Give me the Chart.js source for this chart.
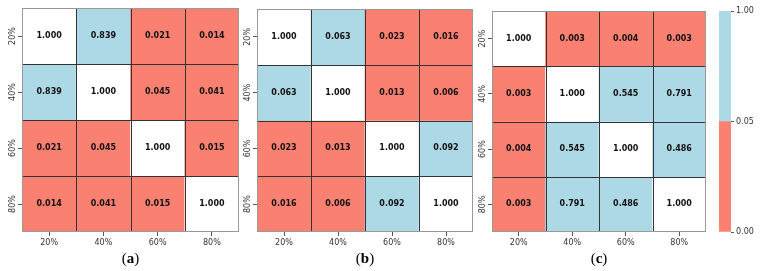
<!DOCTYPE html>
<html>
<head>
<meta charset="utf-8">
<script src="https://cdn.jsdelivr.net/npm/chart.js@4.4.1/dist/chart.umd.min.js"></script>
<style>
  html, body { margin: 0; padding: 0; background: #fff; }
  #wrap { position: relative; width: 760px; height: 271px; overflow: hidden; }
  canvas { position: absolute; top: 0; }
</style>
</head>
<body>
<div id="wrap">
  <canvas id="pa" width="245" height="271" style="left:0px"></canvas>
  <canvas id="pb" width="245" height="271" style="left:235px"></canvas>
  <canvas id="pc" width="242" height="271" style="left:470px"></canvas>
  <canvas id="cb" width="60" height="271" style="left:700px"></canvas>
</div>
<script>
// categories (rows top->bottom, columns left->right)
const levels = ['20%', '40%', '60%', '80%'];

// p-value matrices
const matA = [
  [1.000, 0.839, 0.021, 0.014],
  [0.839, 1.000, 0.045, 0.041],
  [0.021, 0.045, 1.000, 0.015],
  [0.014, 0.041, 0.015, 1.000]
];
const matB = [
  [1.000, 0.063, 0.023, 0.016],
  [0.063, 1.000, 0.013, 0.006],
  [0.023, 0.013, 1.000, 0.092],
  [0.016, 0.006, 0.092, 1.000]
];
const matC = [
  [1.000, 0.003, 0.004, 0.003],
  [0.003, 1.000, 0.545, 0.791],
  [0.004, 0.545, 1.000, 0.486],
  [0.003, 0.791, 0.486, 1.000]
];
const panelNames = ['a', 'b', 'c'];

// colour bar
const cbTicks = ['0.00', '0.05', '1.00'];
const cbColors = ['#FA8072', '#ADD8E6'];
const threshold = 0.05;

const H = 271;
const TXT = '#333';

function cellColor(v, r, c) {
  if (r === c) return '#ffffff';
  return v < threshold ? cbColors[0] : cbColors[1];
}

const cellPlugin = {
  id: 'cells',
  afterDatasetsDraw(chart) {
    const ctx = chart.ctx;
    const ca = chart.chartArea;
    const xs = chart.scales.x, ys = chart.scales.y;
    ctx.save();
    // values in cells
    ctx.font = 'bold 8px "DejaVu Sans"';
    ctx.fillStyle = '#111';
    ctx.textAlign = 'center';
    ctx.textBaseline = 'middle';
    chart.data.datasets.forEach((ds, r) => {
      chart.getDatasetMeta(r).data.forEach((el, c) => {
        ctx.fillText(ds.pv[c].toFixed(3), el.x, (el.y + el.base) / 2);
      });
    });
    // cell dividers
    ctx.strokeStyle = '#333';
    ctx.lineWidth = 1;
    ctx.beginPath();
    for (let i = 1; i < levels.length; i++) {
      const x = Math.round((xs.getPixelForValue(i - 1) + xs.getPixelForValue(i)) / 2) + 0.5;
      ctx.moveTo(x, ca.top); ctx.lineTo(x, ca.bottom);
      const y = Math.round(ys.getPixelForValue(i)) + 0.5;
      ctx.moveTo(ca.left, y); ctx.lineTo(ca.right, y);
    }
    ctx.stroke();
    // frame
    ctx.strokeStyle = '#999';
    ctx.strokeRect(Math.round(ca.left) + 0.5, Math.round(ca.top) + 0.5,
      Math.round(ca.right - ca.left) - 1, Math.round(ca.bottom - ca.top) - 1);
    ctx.restore();
  },
  afterDraw(chart, args, opts) {
    const ctx = chart.ctx;
    const ca = chart.chartArea;
    const cx = (ca.left + ca.right) / 2;
    const y = 259;
    ctx.save();
    ctx.fillStyle = '#000';
    ctx.textBaseline = 'middle';
    ctx.textAlign = 'left';
    const reg = '15px "Liberation Serif"', bold = 'bold 15px "Liberation Serif"';
    ctx.font = reg; const wp = ctx.measureText('(').width, wq = ctx.measureText(')').width;
    ctx.font = bold; const wl = ctx.measureText(opts.label).width;
    let x = cx - (wp + wl + wq) / 2;
    ctx.font = reg; ctx.fillText('(', x, y); x += wp;
    ctx.font = bold; ctx.fillText(opts.label, x, y); x += wl;
    ctx.font = reg; ctx.fillText(')', x, y);
    ctx.restore();
  }
};

function makePanel(id, mat, label, canvasLeft, canvasW, area) {
  const datasets = mat.map((row, r) => ({
    data: row.map(() => 1),
    pv: row,
    backgroundColor: row.map((v, c) => cellColor(v, r, c)),
    borderWidth: 0,
    barPercentage: 1,
    categoryPercentage: 1
  }));
  new Chart(document.getElementById(id), {
    type: 'bar',
    data: { labels: levels, datasets },
    plugins: [cellPlugin],
    options: {
      responsive: false,
      animation: false,
      events: [],
      layout: { padding: { top: area.top, bottom: 0, left: 0, right: canvasLeft + canvasW - area.right } },
      plugins: { legend: { display: false }, tooltip: { enabled: false }, cells: { label } },
      scales: {
        x: {
          stacked: true,
          grid: { drawOnChartArea: false, offset: false, tickLength: 4, color: '#555' },
          border: { display: false },
          ticks: { color: TXT, font: { family: 'DejaVu Sans', size: 8 }, padding: 2, maxRotation: 0 },
          afterFit: s => { s.height = H - area.bottom; }
        },
        y: {
          stacked: true,
          reverse: true,
          min: 0,
          max: levels.length,
          afterBuildTicks: s => { s.ticks = levels.map((_, i) => ({ value: i + 0.5 })); },
          grid: { drawOnChartArea: false, tickLength: 4, color: '#555' },
          border: { display: false },
          ticks: {
            color: TXT, font: { family: 'DejaVu Sans', size: 8 },
            minRotation: 90, maxRotation: 90, crossAlign: 'center', padding: -4,
            callback: (v, i) => levels[i]
          },
          afterFit: s => { s.width = area.left - canvasLeft; }
        }
      }
    }
  });
}

makePanel('pa', matA, panelNames[0], 0, 245, { left: 22, right: 239, top: 8, bottom: 232 });
makePanel('pb', matB, panelNames[1], 235, 245, { left: 257, right: 473, top: 9, bottom: 232 });
makePanel('pc', matC, panelNames[2], 470, 242, { left: 492, right: 706, top: 11, bottom: 232 });

// colour bar: two equal segments, labelled by the boundary values
new Chart(document.getElementById('cb'), {
  type: 'bar',
  data: {
    labels: [''],
    datasets: cbColors.map(col => ({
      data: [1], backgroundColor: col, borderWidth: 0, barPercentage: 1, categoryPercentage: 1
    }))
  },
  options: {
    responsive: false,
    animation: false,
    events: [],
    layout: { padding: { top: 11, bottom: 0, left: 19, right: 0 } },
    plugins: { legend: { display: false }, tooltip: { enabled: false } },
    scales: {
      x: { stacked: true, display: true, grid: { display: false }, border: { display: false },
           ticks: { display: false }, afterFit: s => { s.height = H - 232; } },
      y: {
        stacked: true, position: 'right', min: 0, max: cbTicks.length - 1,
        afterBuildTicks: s => { s.ticks = cbTicks.map((_, i) => ({ value: i })); },
        grid: { drawOnChartArea: false, tickLength: 3, color: '#555' },
        border: { display: false },
        ticks: { color: TXT, font: { family: 'DejaVu Sans', size: 8 }, padding: 2,
                 callback: (v, i) => cbTicks[i] },
        afterFit: s => { s.width = 60 - 31; }
      }
    }
  }
});
</script>
</body>
</html>
